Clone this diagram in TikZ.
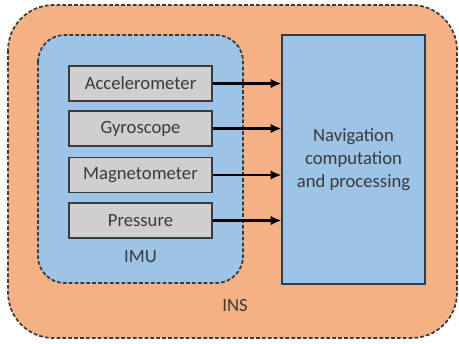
\documentclass[tikz,border=0pt]{standalone}
\usepackage{fontspec}
\setmainfont{Carlito}
\usetikzlibrary{arrows.meta}
\definecolor{insorange}{HTML}{F4B183}
\definecolor{imublue}{HTML}{9DC3E6}
\definecolor{sensgray}{HTML}{D0CECE}
\definecolor{edgegray}{HTML}{3A3A3A}
\begin{document}
\begin{tikzpicture}[x=0.75pt,y=-0.75pt,
  font=\fontsize{14}{17.2}\selectfont,
  every node/.style={text=edgegray},
  region/.style={draw=edgegray,line width=1.3pt,dash pattern=on 2.8pt off 1.6pt},
  sensor/.style={draw=edgegray,fill=sensgray,line width=1.1pt,
    minimum width=107.25pt,minimum height=26.25pt,inner sep=0pt},
  feed/.style={draw=black,line width=1.6pt,-{Latex[length=8pt,width=7pt]}}]
\useasboundingbox (0,0) rectangle (459,343);

% INS and IMU regions
\filldraw[region,fill=insorange,rounded corners=34pt] (8,5) rectangle (457,338);
\filldraw[region,fill=imublue,rounded corners=20pt] (38,35) rectangle (243,283);

% sensors
\node[sensor] (accel)  at (140.5,83.5)  {Accelerometer};
\node[sensor] (gyro)   at (140.5,128.5) {Gyroscope};
\node[sensor] (magnet) at (140.5,175)   {Magnetometer};
\node[sensor] (press)  at (140.5,220.5) {Pressure};

% processing
\node[draw=edgegray,fill=imublue,line width=0.9pt,minimum width=107.25pt,
  minimum height=186.75pt,inner sep=0pt,align=center] (nav) at (353.5,159.5)
  {Navigation\\computation\\and processing};

\node (imu) at (140.5,257) {IMU};
\node (ins) at (235,305) {INS};

\draw[feed] (accel)  -- (accel  -| nav.west);
\draw[feed] (gyro)   -- (gyro   -| nav.west);
\draw[feed] (magnet) -- (magnet -| nav.west);
\draw[feed] (press)  -- (press  -| nav.west);
\end{tikzpicture}
\end{document}
